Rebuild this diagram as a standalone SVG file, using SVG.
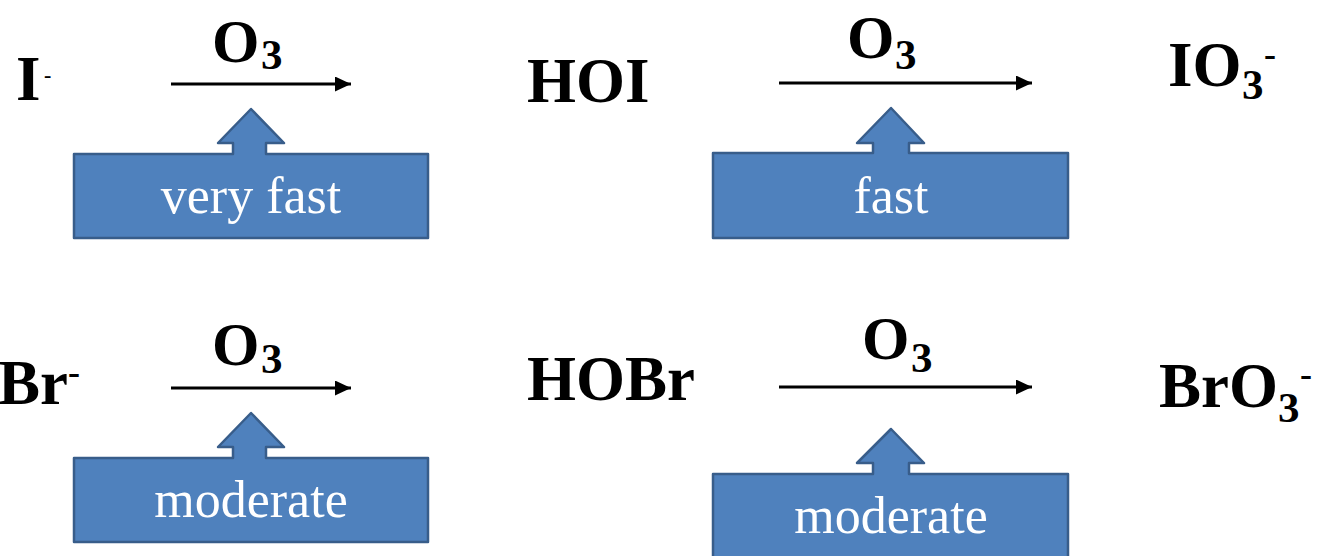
<svg xmlns="http://www.w3.org/2000/svg" width="1317" height="556" viewBox="0 0 1317 556">
  <style>
    .chem { font-family: "Liberation Serif", "Times New Roman", serif; font-weight: bold; fill: #000; }
    .main { font-size: 63px; }
    .ox { font-size: 61px; }
    .sub { font-size: 43px; }
    .sup { font-size: 36px; }
    .rxn { stroke: #000; stroke-width: 3; fill: none; marker-end: url(#head); }
    .callout { fill: #4F81BD; stroke: #385D8A; stroke-width: 2.5; stroke-linejoin: round; }
    .rate { font-family: "Liberation Serif", "Times New Roman", serif; font-size: 52px; fill: #fff; text-anchor: middle; }
  </style>
  <defs>
    <marker id="head" markerUnits="userSpaceOnUse" markerWidth="16" markerHeight="16" refX="16" refY="7.5" orient="auto">
      <path d="M0,0 L16,7.5 L0,15 z" fill="#000"/>
    </marker>
  </defs>

  <!-- species -->
  <g id="iodide">
    <text class="chem main" x="16" y="100">I</text>
    <text class="chem" x="44" y="82" font-size="22px">-</text>
  </g>
  <g id="hoi">
    <text class="chem main" x="527" y="102">HOI</text>
  </g>
  <g id="iodate">
    <text class="chem main" x="1168" y="86">IO</text>
    <text class="chem sub" x="1242" y="99">3</text>
    <text class="chem sup" x="1264" y="66">-</text>
  </g>
  <g id="bromide">
    <text class="chem main" x="-2" y="404">Br</text>
    <text class="chem sup" x="68" y="384">-</text>
  </g>
  <g id="hobr">
    <text class="chem main" x="527" y="400">HOBr</text>
  </g>
  <g id="bromate">
    <text class="chem main" x="1159" y="407">BrO</text>
    <text class="chem sub" x="1278" y="422">3</text>
    <text class="chem sup" x="1300" y="386">-</text>
  </g>

  <!-- reaction arrows with oxidant labels -->
  <g id="connectors">
    <line class="rxn" x1="171" y1="84" x2="351" y2="84"/>
    <text class="chem ox" x="212" y="62">O</text>
    <text class="chem sub" x="261" y="69">3</text>

    <line class="rxn" x1="779" y1="83" x2="1032" y2="83"/>
    <text class="chem ox" x="847" y="58">O</text>
    <text class="chem sub" x="895" y="69">3</text>

    <line class="rxn" x1="171" y1="388" x2="351" y2="388"/>
    <text class="chem ox" x="212" y="365">O</text>
    <text class="chem sub" x="261" y="373">3</text>

    <line class="rxn" x1="779" y1="387" x2="1032" y2="387"/>
    <text class="chem ox" x="862" y="359">O</text>
    <text class="chem sub" x="911" y="372">3</text>
  </g>

  <!-- rate callouts: box with an up-arrow pointing at the reaction -->
  <g id="rate-i-hoi">
    <path class="callout" d="M74,154 H233 V143 H218 L251,109 L284,143 H266 V154 H428 V238 H74 Z"/>
    <text class="rate" x="251" y="213">very fast</text>
  </g>
  <g id="rate-hoi-io3">
    <path class="callout" d="M713,153 H873 V143 H857 L891,108 L924,143 H909 V153 H1068 V238 H713 Z"/>
    <text class="rate" x="891" y="213">fast</text>
  </g>
  <g id="rate-br-hobr">
    <path class="callout" d="M74,458 H233 V447 H218 L251,413 L284,447 H266 V458 H428 V542 H74 Z"/>
    <text class="rate" x="251" y="517">moderate</text>
  </g>
  <g id="rate-hobr-bro3">
    <path class="callout" d="M713,474 H873 V463 H857 L891,429 L924,463 H909 V474 H1068 V560 H713 Z"/>
    <text class="rate" x="891" y="533">moderate</text>
  </g>
</svg>
